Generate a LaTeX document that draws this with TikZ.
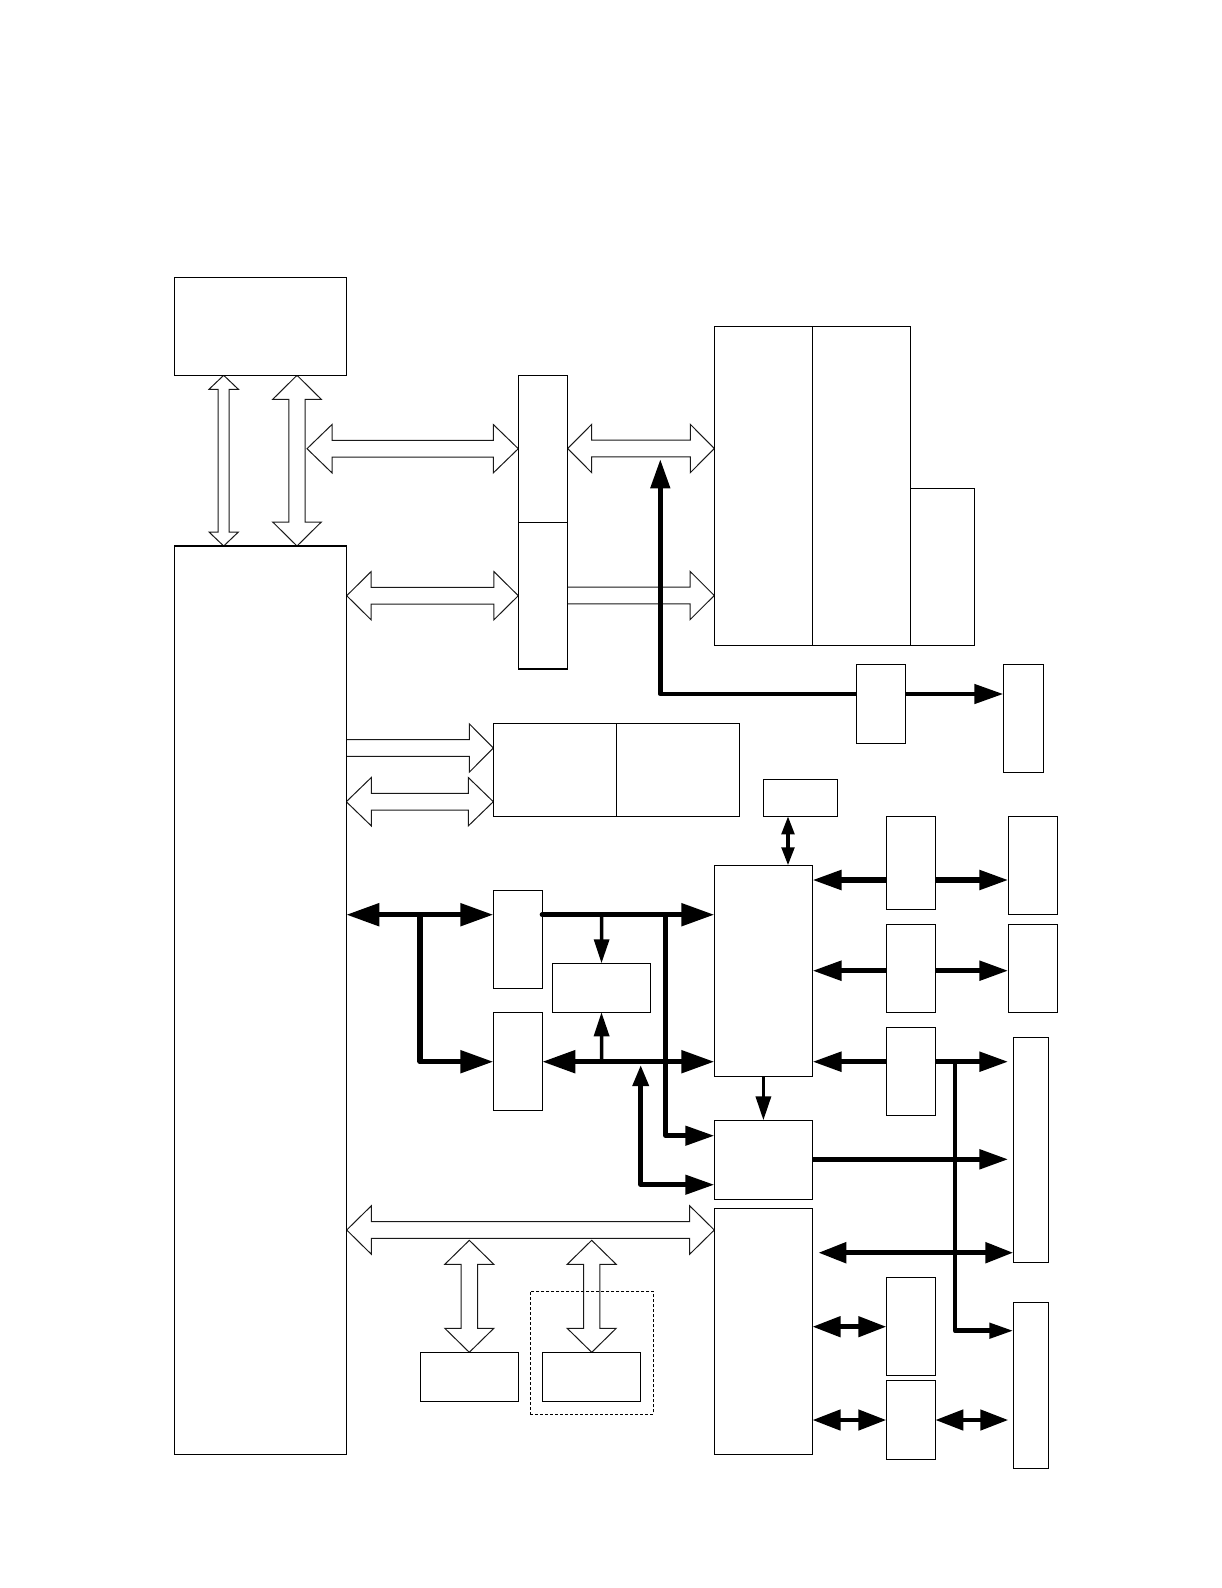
\documentclass[tikz,border=0pt]{standalone}
\usetikzlibrary{arrows.meta}
\tikzset{
  box/.style={draw=black, line width=1.2pt, fill=white, inner sep=0pt, outer sep=0pt},
  dbox/.style={draw=black, line width=1pt, dash pattern=on 3pt off 2pt, inner sep=0pt, outer sep=0pt},
  hollow/.style={draw=black!90, fill=white, line width=1pt, line join=miter},
  bus/.style={line width=5.3pt},
  mid/.style={line width=4.6pt, line join=round},
  fine/.style={line width=3.4pt},
  BT/.tip={Triangle[length=33pt,width=22pt]},
  RT/.tip={Triangle[length=29pt,width=19pt]},
  DT/.tip={Triangle[length=28pt,width=20pt]},
  MT/.tip={Triangle[length=24pt,width=15pt]},
  UT/.tip={Triangle[length=21pt,width=15.6pt]},
  ST/.tip={Triangle[length=18pt,width=12.6pt]},
}
\newcommand{\mkbox}[5]{\node[box,anchor=north west,minimum width={#4pt-#2pt},minimum height={#5pt-#3pt}] (#1) at (#2,#3) {};}
% horizontal hollow double arrow: xa, xb, y, head length
\newcommand{\hdbl}[4]{\filldraw[hollow] (#1,#3) -- ({#1+#4},{#3-24.2}) -- ({#1+#4},{#3-8.3}) -- ({#2-#4},{#3-8.3}) -- ({#2-#4},{#3-24.2}) -- (#2,#3) -- ({#2-#4},{#3+24.2}) -- ({#2-#4},{#3+8.3}) -- ({#1+#4},{#3+8.3}) -- ({#1+#4},{#3+24.2}) -- cycle;}
% horizontal hollow single arrow pointing right: xa, xb, y, head length
\newcommand{\hsgl}[4]{\filldraw[hollow] (#1,{#3-8.3}) -- ({#2-#4},{#3-8.3}) -- ({#2-#4},{#3-24.2}) -- (#2,#3) -- ({#2-#4},{#3+24.2}) -- ({#2-#4},{#3+8.3}) -- (#1,{#3+8.3}) -- cycle;}
% vertical hollow double arrow: x, ya, yb, shaft half, head half, head length
\newcommand{\vdbl}[6]{\filldraw[hollow] (#1,#2) -- ({#1+#5},{#2+#6}) -- ({#1+#4},{#2+#6}) -- ({#1+#4},{#3-#6}) -- ({#1+#5},{#3-#6}) -- (#1,#3) -- ({#1-#5},{#3-#6}) -- ({#1-#4},{#3-#6}) -- ({#1-#4},{#2+#6}) -- ({#1-#5},{#2+#6}) -- cycle;}
\begin{document}
\begin{tikzpicture}[x=1pt,y=-1pt]
\useasboundingbox[fill=white] (0,0) rectangle (1222,1588);

% hollow bus arrows
\vdbl{223.7}{375.3}{546}{5.5}{14.7}{14}
\vdbl{297}{375.3}{546}{8.2}{24.3}{24}
\hdbl{307}{518.3}{448.7}{25}
\hdbl{346.7}{518.3}{595.7}{24.5}
\hdbl{567.7}{714.3}{448.5}{24}
\hsgl{567.3}{714.3}{595.5}{24.3}
\hsgl{346.3}{493.3}{748}{24}
\hdbl{346.3}{493.3}{801.7}{25}
\hdbl{346.7}{714.3}{1230}{24.6}
\vdbl{469.3}{1240.3}{1352.3}{8.2}{24.5}{24}
\vdbl{591.7}{1240.3}{1352.3}{8.2}{24.5}{24}

% boxes
\mkbox{topb}{174.3}{277.3}{346.3}{375.3}
\mkbox{main}{174.3}{546}{346.3}{1454.3}
\mkbox{colA}{518.3}{375.3}{567.3}{522.3}
\mkbox{colB}{518.3}{522.3}{567.3}{669}
\mkbox{memA}{714.3}{326.3}{812.3}{645.3}
\mkbox{memB}{812.3}{326.3}{910.3}{645.3}
\mkbox{memC}{910.3}{488.3}{974.7}{645.3}
\mkbox{N}{856.3}{664.3}{905.3}{743.3}
\mkbox{O}{1003.3}{664.3}{1043.3}{772.3}
\mkbox{dualL}{493.3}{723.3}{616.3}{816.3}
\mkbox{dualR}{616.3}{723.3}{739.3}{816.3}
\mkbox{P}{763.3}{779.3}{837.3}{816.3}
\mkbox{A}{493.3}{890.3}{542.3}{988.3}
\mkbox{B}{493.3}{1012.3}{542.3}{1110.3}
\mkbox{C}{552.3}{963.3}{650.7}{1012.3}
\mkbox{D}{714.3}{865.3}{812.5}{1076.3}
\mkbox{E1}{886.3}{816.3}{935.5}{909.3}
\mkbox{E2}{886.3}{924.3}{935.5}{1012.3}
\mkbox{E3}{886.3}{1027.3}{935.5}{1115.3}
\mkbox{F1}{1008.3}{816.3}{1057.7}{914.3}
\mkbox{F2}{1008.3}{924.3}{1057.7}{1012.3}
\mkbox{G}{1013.3}{1037.3}{1048.3}{1262.3}
\mkbox{I}{714.3}{1120.3}{812.5}{1199.3}
\mkbox{J}{714.3}{1208.5}{812.5}{1454.3}
\mkbox{K}{420.3}{1352.3}{518.7}{1401.3}
\mkbox{L}{542.3}{1352.3}{640.7}{1401.3}
\mkbox{M1}{886.3}{1277.7}{935.3}{1375.3}
\mkbox{M2}{886.3}{1380.3}{935.3}{1459.3}
\mkbox{H}{1013.3}{1302.3}{1048.3}{1468.3}
\node[dbox,anchor=north west,minimum width=123pt,minimum height=123pt] (grp) at (530.3,1291.3) {};

% reference rows and columns
\coordinate (r1) at (0,914.7);
\coordinate (r2) at (0,1061.7);
\coordinate (r3) at (0,880);
\coordinate (r4) at (0,970.7);
\coordinate (r5) at (0,1135.7);
\coordinate (r6) at (0,1184.7);
\coordinate (r7) at (0,1159.3);
\coordinate (r8) at (0,1252.7);
\coordinate (r9) at (0,1326.7);
\coordinate (r10) at (0,1420);
\coordinate (r11) at (0,694);
\coordinate (r12) at (0,1330.7);
\coordinate (c1) at (420,0);
\coordinate (c2) at (601.7,0);
\coordinate (c3) at (665.7,0);
\coordinate (c4) at (640.7,0);
\coordinate (c5) at (660.3,0);
\coordinate (c6) at (955,0);
\coordinate (c7) at (788,0);
\coordinate (upT) at (660.3,459.3);
\coordinate (t4) at (640.7,1065);
\coordinate (j8) at (818.3,1252.7);

% black connectors
\draw[bus,BT-BT] (main.east|-r1) -- (A.west|-r1);
\draw[bus,-BT,line join=round] (c1|-r1) -- (c1|-r2) -- (B.west|-r2);
\draw[bus,-BT,line cap=round] (A.east|-r1) -- (D.west|-r1);
\draw[fine,-MT] (c2|-r1) -- (C.north);
\draw[bus,BT-BT] (B.east|-r2) -- (D.west|-r2);
\draw[fine,-MT] (c2|-r2) -- (C.south);
\draw[mid,-RT] (c3|-r1) |- (I.west|-r5);
\draw[mid,UT-RT] (t4) |- (I.west|-r6);
\draw[fine,-MT] (D.south-|I.north) -- (I.north);
\draw[mid,-RT] (N.west|-r11) -| (upT);
\draw[mid,-RT] (N.east|-r11) -- (O.west|-r11);
\draw[fine,ST-ST] (c7|-P.south) -- (c7|-D.north);
\draw[bus,-RT] (E1.west|-r3) -- (D.east|-r3);
\draw[bus,-RT] (E1.east|-r3) -- (F1.west|-r3);
\draw[bus,-RT] (E2.west|-r4) -- (D.east|-r4);
\draw[bus,-RT] (E2.east|-r4) -- (F2.west|-r4);
\draw[bus,-RT] (E3.west|-r2) -- (D.east|-r2);
\draw[bus,-RT,shorten >=5pt] (E3.east|-r2) -- (G.west|-r2);
\draw[mid,-MT] (c6|-r2) |- (H.west|-r12);
\draw[bus,-RT,shorten >=5pt] (I.east|-r7) -- (G.west|-r7);
\draw[bus,DT-DT] (j8) -- (G.west|-r8);
\draw[mid,DT-DT] (J.east|-r9) -- (M1.west|-r9);
\draw[mid,DT-DT] (J.east|-r10) -- (M2.west|-r10);
\draw[mid,DT-DT,shorten >=5pt] (M2.east|-r10) -- (H.west|-r10);
\end{tikzpicture}
\end{document}
